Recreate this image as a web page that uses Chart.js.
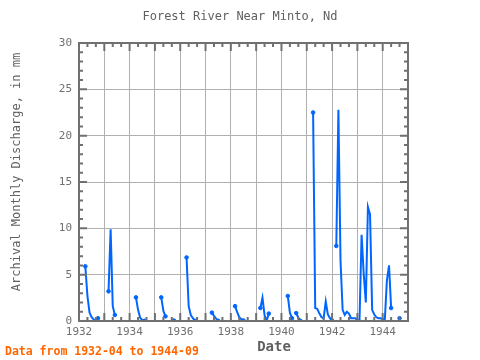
<!DOCTYPE html>
<html><head><meta charset="utf-8">
<script src="https://cdn.jsdelivr.net/npm/chart.js@4"></script>
<style>html,body{margin:0;padding:0;background:#fff}</style>
</head><body>
<canvas id="c" width="480" height="360" style="width:480px;height:360px;display:block"></canvas>
<script>
// ---- data ----
const months = [
 "1932-04","1932-05","1932-06","1932-07","1932-08","1932-09","1932-10",
 "1933-03","1933-04","1933-05","1933-06",
 "1934-04","1934-05","1934-06","1934-07","1934-08",
 "1935-04","1935-05","1935-06",
 "1935-10",
 "1936-04","1936-05","1936-06","1936-07","1936-08",
 "1937-04","1937-05","1937-06","1937-07",
 "1938-03","1938-04","1938-05","1938-06","1938-07",
 "1939-03","1939-04","1939-05","1939-06","1939-07",
 "1940-04","1940-05","1940-06",
 "1940-08","1940-09","1940-10",
 "1941-04","1941-05","1941-06","1941-07","1941-08","1941-09","1941-10","1941-11","1941-12","1942-01",
 "1942-03","1942-04","1942-05","1942-06","1942-07","1942-08","1942-09","1942-10","1942-11","1942-12",
 "1943-01","1943-02","1943-03","1943-04","1943-05","1943-06","1943-07","1943-08","1943-09","1943-10","1943-11","1943-12",
 "1944-01","1944-02","1944-03","1944-04","1944-05",
 "1944-09"
];
const discharge = [
 5.9,2.7,0.9,0.4,0.15,0.1,0.3,
 3.2,9.9,1.6,0.65,
 2.55,1.2,0.35,0.08,0.02,
 2.55,1.1,0.5,
 0.05,
 6.86,1.6,0.65,0.3,0.02,
 0.9,0.55,0.25,0.02,
 1.6,0.95,0.4,0.2,0.05,
 1.4,2.5,0.6,0.05,0.8,
 2.7,0.9,0.3,
 0.85,0.35,0.02,
 22.5,1.4,1.3,0.8,0.4,0.3,2.1,0.7,0.3,0.05,
 8.1,22.8,6.5,1.2,0.65,1.0,0.8,0.3,0.3,0.3,
 0.1,0.05,9.3,5.1,2.0,12.3,11.5,1.2,0.7,0.4,0.3,0.3,
 0.2,0.1,4.4,6.0,1.4,
 0.3
];
const yTickValues = [0,5,10,15,20,25,30];
const xTickYears = [1932,1933,1934,1935,1936,1937,1938,1939,1940,1941,1942,1943,1944];
const xLabelYears = [1932,1934,1936,1938,1940,1942,1944];

const titleText = "Forest River Near Minto, Nd";
const yTitle = "Archival Monthly Discharge, in mm";
const xTitle = "Date";
const footText = "Data from 1932-04 to 1944-09";

// ---- build series with gaps ----
function toYear(s){const [y,m]=s.split("-").map(Number);return y+(m-1)/12;}
function monthIndex(s){const [y,m]=s.split("-").map(Number);return y*12+m;}
const pts=[];
for(let i=0;i<months.length;i++){
  if(i>0 && monthIndex(months[i])-monthIndex(months[i-1])>1){
    pts.push({x:(toYear(months[i])+toYear(months[i-1]))/2,y:null});
  }
  pts.push({x:toYear(months[i]),y:discharge[i]});
}

const MONO="'DejaVu Sans Mono', 'Liberation Mono', monospace";
const frameColor="#707070";

const decor={
  id:'decor',
  afterDatasetsDraw(chart){
    const {ctx,chartArea:a,scales:{x,y}}=chart;
    ctx.save();
    ctx.strokeStyle=frameColor;
    ctx.lineWidth=2;
    ctx.beginPath();
    for(let v=0;v<=30;v++){
      const py=y.getPixelForValue(v);
      const L=(v%5===0)?8:4;
      ctx.moveTo(a.left,py);ctx.lineTo(a.left+L,py);
      ctx.moveTo(a.right,py);ctx.lineTo(a.right-L,py);
    }
    for(let k=0;k<=39;k++){
      const v=1932+k/3;
      const px=x.getPixelForValue(v);
      const L=(k%3===0)?8:4;
      ctx.moveTo(px,a.bottom);ctx.lineTo(px,a.bottom-L);
      ctx.moveTo(px,a.top);ctx.lineTo(px,a.top+L);
    }
    ctx.stroke();
    ctx.strokeRect(a.left,a.top,a.right-a.left,a.bottom-a.top);
    ctx.restore();
  },
  afterDraw(chart){
    const {ctx}=chart;
    ctx.save();
    ctx.fillStyle="#606060";
    ctx.textAlign="center";ctx.textBaseline="middle";
    ctx.font="12px "+MONO;
    ctx.fillText(titleText,240,17);
    ctx.font="bold 14px "+MONO;
    ctx.fillText(xTitle,274,347);
    ctx.save();
    ctx.translate(17,172);ctx.rotate(-Math.PI/2);
    ctx.font="12px "+MONO;
    ctx.fillText(yTitle,0,0);
    ctx.restore();
    ctx.fillStyle="#ff6600";
    ctx.textAlign="left";
    ctx.font="bold 11.5px "+MONO;
    ctx.fillText(footText,5,352);
    ctx.restore();
  }
};

new Chart(document.getElementById('c'),{
  type:'line',
  data:{datasets:[{
    data:pts,
    borderColor:'#0066ff',
    backgroundColor:'#0066ff',
    borderWidth:2,
    spanGaps:false,
    tension:0,
    pointRadius(ctx){
      const i=ctx.dataIndex,d=ctx.dataset.data;
      if(d[i].y===null) return 0;
      const prev=i>0?d[i-1].y:null, next=i<d.length-1?d[i+1].y:null;
      return (prev===null||next===null)?1.8:0;
    },
    pointStyle:'circle',
    pointBorderWidth:1
  }]},
  options:{
    responsive:false,animation:false,devicePixelRatio:1,
    layout:{padding:{top:43,right:72,left:0,bottom:0}},
    plugins:{legend:{display:false},tooltip:{enabled:false},title:{display:false}},
    scales:{
      x:{type:'linear',min:1932,max:1945,
        afterBuildTicks(s){s.ticks=xTickYears.map(v=>({value:v}));},
        afterFit(s){s.height=39;},
        ticks:{autoSkip:false,maxRotation:0,padding:5,color:'#707070',
          font:{family:MONO,size:11},
          callback:v=>xLabelYears.includes(v)?String(v):''},
        grid:{color:'#b0b0b0',lineWidth:1,drawTicks:false},
        border:{display:false}
      },
      y:{min:0,max:30,
        afterBuildTicks(s){s.ticks=yTickValues.map(v=>({value:v}));},
        afterFit(s){s.width=79;},
        ticks:{padding:7,color:'#707070',font:{family:MONO,size:11}},
        grid:{color:'#b0b0b0',lineWidth:1,drawTicks:false},
        border:{display:false}
      }
    }
  },
  plugins:[decor]
});
</script>
</body></html>
